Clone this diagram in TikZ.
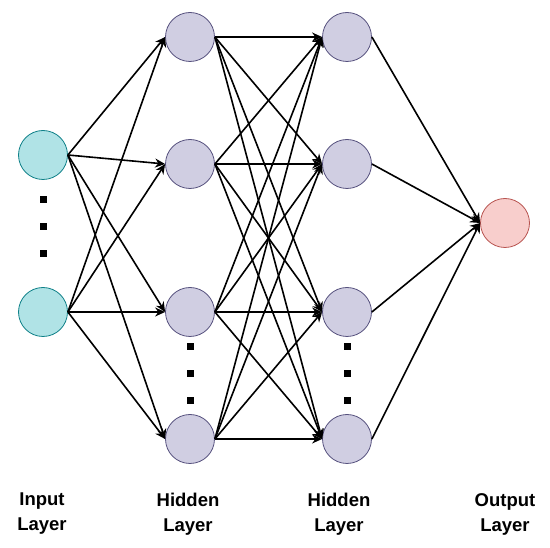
\documentclass[tikz,border=0pt]{standalone}
\usepackage{fontspec}
\setmainfont{Liberation Sans}
\usetikzlibrary{arrows.meta}
\definecolor{inFill}{HTML}{B0E3E6}
\definecolor{inLine}{HTML}{0E8088}
\definecolor{hidFill}{HTML}{D0CEE2}
\definecolor{hidLine}{HTML}{56517E}
\definecolor{outFill}{HTML}{F8CECC}
\definecolor{outLine}{HTML}{B85450}
\tikzset{
  neuron/.style={circle, minimum size=49pt, inner sep=0pt, line width=0.8pt},
  innode/.style={neuron, fill=inFill, draw=inLine},
  hidnode/.style={neuron, fill=hidFill, draw=hidLine},
  outnode/.style={neuron, fill=outFill, draw=outLine},
  conn/.style={line width=1.6pt, -{Stealth[length=10pt,width=9pt]}},
  dotmark/.style={fill=black, minimum size=7pt, inner sep=0pt, rectangle},
  lab/.style={font=\fontsize{18.5}{25}\selectfont\bfseries, align=center}
}
\begin{document}
\begin{tikzpicture}[x=1pt,y=-1pt]
\useasboundingbox (0,0) rectangle (550,548);
% input
\node[innode] (i1) at (43,155) {};
\node[innode] (i2) at (43,312) {};
% hidden 1
\node[hidnode] (a1) at (190,37) {};
\node[hidnode] (a2) at (190,164) {};
\node[hidnode] (a3) at (190,312) {};
\node[hidnode] (a4) at (190,439) {};
% hidden 2
\node[hidnode] (b1) at (347,37) {};
\node[hidnode] (b2) at (347,164) {};
\node[hidnode] (b3) at (347,312) {};
\node[hidnode] (b4) at (347,439) {};
% output
\node[outnode] (o) at (505,223) {};
% dots
\node[dotmark] (d1) at (43,200) {};
\node[dotmark] (d2) at (43,227) {};
\node[dotmark] (d3) at (43,254) {};
\node[dotmark] (e1) at (190,347) {};
\node[dotmark] (e2) at (190,374) {};
\node[dotmark] (e3) at (190,401) {};
\node[dotmark] (f1) at (347,347) {};
\node[dotmark] (f2) at (347,374) {};
\node[dotmark] (f3) at (347,401) {};
% connections
\foreach \s in {i1,i2}
  \foreach \t in {a1,a2,a3,a4}
    \draw[conn] (\s.east) -- (\t.west);
\foreach \s in {a1,a2,a3,a4}
  \foreach \t in {b1,b2,b3,b4}
    \draw[conn] (\s.east) -- (\t.west);
\foreach \s in {b1,b2,b3,b4}
  \draw[conn] (\s.east) -- (o.west);
% labels
\node[lab] (l1) at (42,514) {Input\\Layer};
\node[lab] (l2) at (188,514) {Hidden\\Layer};
\node[lab] (l3) at (339,514) {Hidden\\Layer};
\node[lab] (l4) at (505,514) {Output\\Layer};
\end{tikzpicture}
\end{document}
